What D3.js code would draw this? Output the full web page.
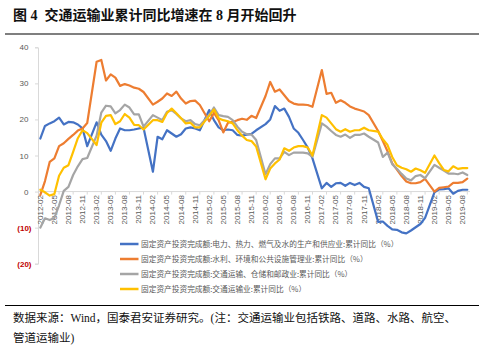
<!DOCTYPE html>
<html>
<head>
<meta charset="utf-8">
<script src="https://cdn.jsdelivr.net/npm/d3@7/dist/d3.min.js"></script>
<style>
  body { margin: 0; background: #fff; }
  svg { display: block; }
</style>
</head>
<body>
<svg width="488" height="353"></svg>
<script>
// months (cumulative data, January is not published)
const months = [
  "2012-02","2012-03","2012-04","2012-05","2012-06","2012-07","2012-08","2012-09","2012-10","2012-11","2012-12",
  "2013-02","2013-03","2013-04","2013-05","2013-06","2013-07","2013-08","2013-09","2013-10","2013-11","2013-12",
  "2014-02","2014-03","2014-04","2014-05","2014-06","2014-07","2014-08","2014-09","2014-10","2014-11","2014-12",
  "2015-02","2015-03","2015-04","2015-05","2015-06","2015-07","2015-08","2015-09","2015-10","2015-11","2015-12",
  "2016-02","2016-03","2016-04","2016-05","2016-06","2016-07","2016-08","2016-09","2016-10","2016-11","2016-12",
  "2017-02","2017-03","2017-04","2017-05","2017-06","2017-07","2017-08","2017-09","2017-10","2017-11","2017-12",
  "2018-02","2018-03","2018-04","2018-05","2018-06","2018-07","2018-08","2018-09","2018-10","2018-11","2018-12",
  "2019-02","2019-03","2019-04","2019-05","2019-06","2019-07","2019-08","2019-09"
];

// 电力、热力、燃气及水的生产和供应业
const power = [
  14.7, 18.2, 18.9, 19.5, 20.5, 18.6, 19.3, 19.2, 18.6, 17.5, 12.6,
  19.2, 15.8, 14.0, 11.3, 14.7, 17.5, 17.0, 17.0, 17.2, 17.5, 17.7,
  5.5, 15.2, 14.5, 17.0, 16.1, 15.2, 15.9, 17.5, 17.8, 17.5, 17.0,
  22.6, 19.8, 17.8, 17.0, 17.2, 17.0, 15.7, 15.5, 15.8, 16.0, 17.0,
  18.7, 20.0, 23.7, 22.4, 23.0, 20.7, 17.5, 16.3, 14.3, 12.2, 9.2,
  0.9, 2.4, 1.3, 2.3, 2.4, 1.6, 2.4, 1.8, 2.4, 1.3, 0.9,
  -8.4, -8.3, -9.5, -10.5, -10.6, -11.3, -11.6, -10.8, -9.9, -9.0, -7.3,
  -0.2, 0.6, 0.7, 0.9, -0.6, 0.2, 0.5, 0.5
];

// 水利、环境和公共设施管理业
const water = [
  -1.0, 2.9, 8.2, 9.2, 12.6, 13.4, 14.6, 15.7, 16.9, 17.5, 19.0,
  36.0, 36.5, 30.8, 32.5, 31.6, 29.3, 29.8, 29.4, 28.8, 28.5, 27.6,
  24.1, 24.9, 25.8, 27.2, 26.5, 27.7, 25.8, 24.4, 25.1, 25.2, 24.0,
  19.5, 21.8, 19.8, 16.4, 19.1, 19.3, 19.8, 20.2, 19.9, 21.0, 20.4,
  26.5, 30.4, 27.7, 28.3, 26.7, 25.1, 24.4, 24.1, 24.1, 24.0, 23.5,
  33.7, 27.1, 27.4, 24.6, 25.3, 24.6, 23.6, 23.0, 22.6, 22.2, 21.2,
  16.8, 14.0, 11.2, 7.8, 6.1, 4.3, 2.8, 2.3, 2.3, 2.6, 3.5,
  0.0, 1.0, 1.2, 1.4, 2.4, 2.4, 2.6, 3.6
];

// 交通运输、仓储和邮政业
const logistics = [
  -10.0, -7.4, -7.9, -7.3, -3.8, 0.2, 1.3, 4.6, 7.0, 9.0, 9.3,
  15.5, 21.9, 23.8, 23.6, 21.7, 22.6, 24.1, 23.3, 21.4, 21.4, 18.0,
  21.2, 20.5, 19.8, 22.1, 22.6, 21.5, 20.3, 19.5, 19.8, 18.7, 18.4,
  21.2, 23.3, 21.2, 20.9, 20.7, 19.8, 18.0, 16.6, 15.9, 15.8, 14.3,
  4.8, 7.6, 9.2, 9.2, 11.0, 10.1, 10.8, 10.8, 10.8, 10.6, 9.6,
  18.9, 18.0, 16.8, 15.7, 15.2, 15.8, 14.9, 15.7, 15.7, 16.1, 15.2,
  13.6, 9.6, 10.8, 7.6, 6.3, 4.9, 3.6, 3.1, 4.3, 4.6, 3.7,
  7.4, 6.6, 5.8, 5.0, 5.0, 4.8, 5.3, 4.6
];

// 交通运输业
const transport = [
  0.5, -0.2, -1.1, -0.7, 4.4, 6.6, 7.3, 11.0, 14.8, 17.0, 16.2,
  12.9, 19.1, 21.0, 21.2, 18.7, 19.5, 21.5, 20.5, 18.5, 18.4, 17.2,
  19.8, 19.8, 19.3, 21.8, 23.0, 21.7, 20.3, 18.9, 19.1, 17.8, 17.8,
  21.0, 22.8, 20.3, 19.8, 19.5, 18.9, 17.0, 15.5, 14.3, 14.0, 12.5,
  3.4, 6.4, 7.8, 8.9, 12.0, 11.3, 12.2, 12.6, 12.6, 12.2, 10.0,
  21.2, 20.5, 18.9, 17.3, 16.6, 17.3, 16.6, 17.0, 17.0, 17.7, 17.0,
  16.6, 14.5, 12.9, 9.6, 7.3, 6.6, 6.2, 5.5, 6.4, 5.9, 5.2,
  10.0, 7.9, 6.0, 5.6, 7.0, 6.3, 6.5, 6.5
];

const seriesNames = [
  "固定资产投资完成额:电力、热力、燃气及水的生产和供应业:累计同比（%）",
  "固定资产投资完成额:水利、环境和公共设施管理业:累计同比（%）",
  "固定资产投资完成额:交通运输、仓储和邮政业:累计同比（%）",
  "固定资产投资完成额:交通运输业:累计同比（%）"
];
const colors = ["#4472c4", "#ed7d31", "#a5a5a5", "#ffc000"];
const yTicks = [-20, -10, 0, 10, 20, 30, 40];

const titleText = "图 4  交通运输业累计同比增速在 8 月开始回升";
const sourceLines = [
  "数据来源：Wind，国泰君安证券研究。(注：交通运输业包括铁路、道路、水路、航空、",
  "管道运输业)"
];

const series = [power, water, logistics, transport];

// position on a monthly axis
const monthIndex = (m) => (+m.slice(0, 4) - 2012) * 12 + (+m.slice(5) - 2);

const svg = d3.select("svg");

svg.append("rect")
    .attr("width", 488)
    .attr("height", 353)
    .attr("fill", "#fff");

// prettier-ignore
const x = d3.scaleLinear()
    .domain([0, 91])
    .range([40.3, 467.3])

// prettier-ignore
const y = d3.scaleLinear()
    .domain([-20, 40])
    .range([263.7, 47.3])

// title + rules
svg.append("text")
    .attr("x", 13)
    .attr("y", 19.5)
    .attr("font-family", '"Liberation Serif", "Noto Sans CJK SC", sans-serif')
    .attr("font-weight", "bold")
    .attr("font-size", 14)
    .attr("fill", "#111")
    .attr("xml:space", "preserve")
    .style("white-space", "pre")
    .text(titleText);

svg.append("line")
    .attr("x1", 5).attr("x2", 479)
    .attr("y1", 34).attr("y2", 34)
    .attr("stroke", "#000").attr("stroke-width", 1.2);

svg.append("line")
    .attr("x1", 5).attr("x2", 479)
    .attr("y1", 305.5).attr("y2", 305.5)
    .attr("stroke", "#000").attr("stroke-width", 1.2);

svg.selectAll("text.source")
  .data(sourceLines)
  .join("text")
    .attr("class", "source")
    .attr("x", 13)
    .attr("y", (d, i) => 321.5 + i * 20)
    .attr("font-family", '"Liberation Serif", "Noto Sans CJK SC", serif')
    .attr("font-size", 11.5)
    .attr("fill", "#111")
    .text(d => d);

// y axis
// prettier-ignore
const yAxis = d3.axisLeft(y)
    .tickValues(yTicks)
    .tickSize(3)
    .tickFormat(d => d < 0 ? `(${-d})` : d)

const yAxisG = svg.append("g")
    .attr("transform", "translate(38,0)")
    .call(yAxis);

yAxisG.select(".domain").attr("stroke", "#d9d9d9");
yAxisG.selectAll(".tick line").attr("stroke", "#d9d9d9");
yAxisG.selectAll(".tick text")
    .attr("x", d => d < 0 ? -6.5 : -9.5)
    .attr("font-family", '"Liberation Sans", Arial, sans-serif')
    .attr("font-size", 8)
    .attr("font-weight", d => d < 0 ? "bold" : "normal")
    .attr("fill", d => d < 0 ? "#c00000" : "#595959");

// x axis along zero
const labelMonths = months.filter(m => ["02", "05", "08", "11"].includes(m.slice(5)));

svg.append("line")
    .attr("x1", 38).attr("x2", 470)
    .attr("y1", y(0)).attr("y2", y(0))
    .attr("stroke", "#d9d9d9");

svg.selectAll("line.xtick")
  .data(labelMonths)
  .join("line")
    .attr("class", "xtick")
    .attr("x1", d => x(monthIndex(d) + 1))
    .attr("x2", d => x(monthIndex(d) + 1))
    .attr("y1", y(0))
    .attr("y2", y(0) + 3)
    .attr("stroke", "#d9d9d9");

svg.selectAll("text.xlabel")
  .data(labelMonths)
  .join("text")
    .attr("class", "xlabel")
    .attr("transform", d => `translate(${x(monthIndex(d))},${y(0) + 3.5}) rotate(-90)`)
    .attr("text-anchor", "end")
    .attr("dominant-baseline", "central")
    .attr("font-family", '"Liberation Sans", Arial, sans-serif')
    .attr("font-size", 8)
    .attr("fill", "#595959")
    .text(d => d);

// lines
// prettier-ignore
const line = d3.line()
    .x((d, i) => x(monthIndex(months[i])))
    .y(d => y(d))

svg.append("g")
    .attr("class", "paths")
  .selectAll("path")
  .data(series)
  .join("path")
    .attr("d", line)
    .attr("fill", "none")
    .attr("stroke", (d, i) => colors[i])
    .attr("stroke-width", 2.2)
    .attr("stroke-linejoin", "round")
    .attr("stroke-linecap", "round");

// legend
const legend = svg.append("g")
  .selectAll("g")
  .data(seriesNames)
  .join("g")
    .attr("transform", (d, i) => `translate(120,${244 + i * 15})`);

legend.append("line")
    .attr("x1", 0).attr("x2", 18.5)
    .attr("stroke", (d, i) => colors[i])
    .attr("stroke-width", 2.5);

legend.append("text")
    .attr("x", 21)
    .attr("dy", "0.35em")
    .attr("font-family", '"Noto Sans CJK SC", sans-serif')
    .attr("font-size", 7.7)
    .attr("fill", "#595959")
    .text(d => d);
</script>
</body>
</html>
